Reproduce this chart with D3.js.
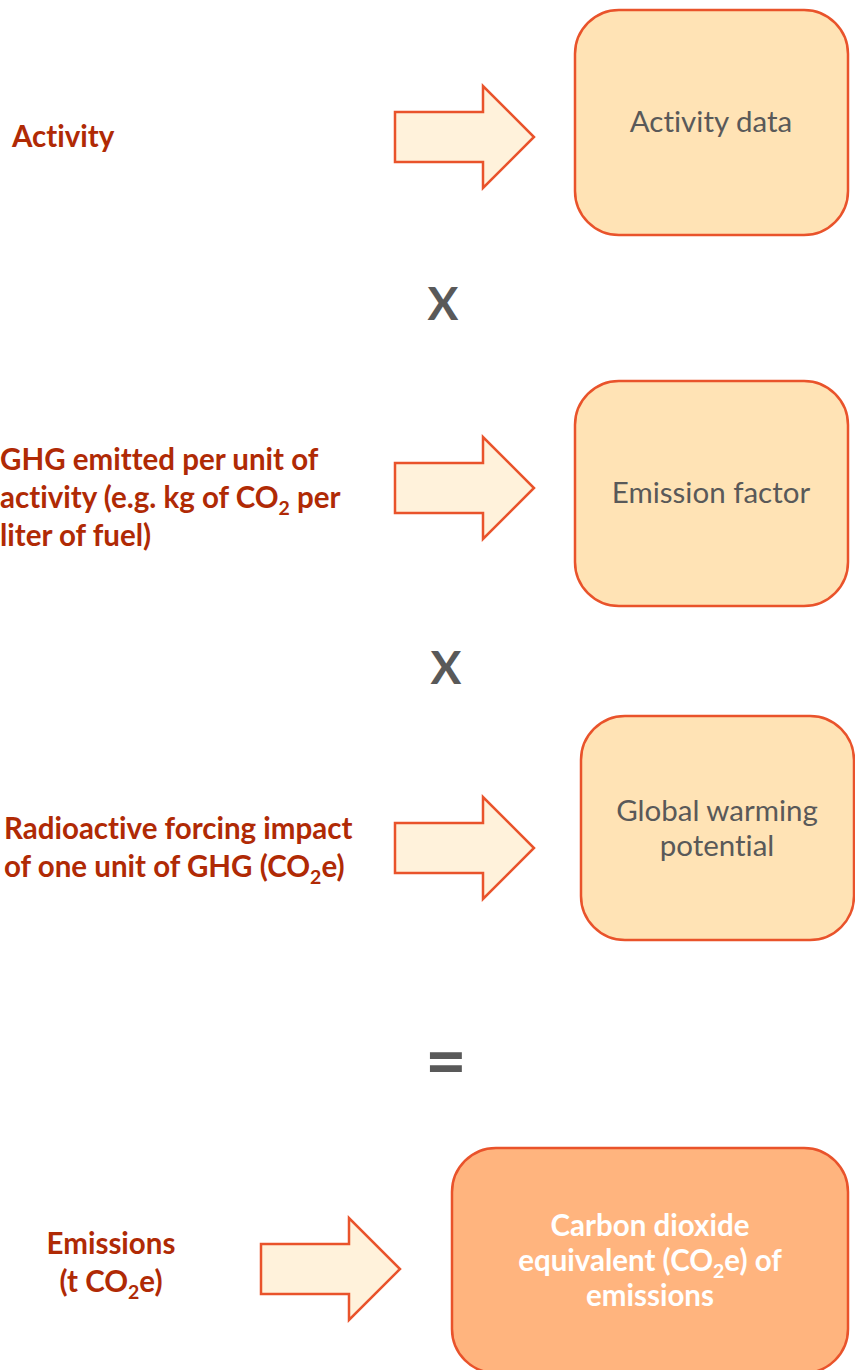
<!DOCTYPE html>
<html>
<head>
<meta charset="utf-8">
<script src="https://cdn.jsdelivr.net/npm/d3@7"></script>
<style>
  body { margin: 0; background: #fff; }
  svg { display: block; }
  text { font-variant-ligatures: none; font-feature-settings: "liga" 0; }
</style>
</head>
<body>
<div id="viz"></div>
<script>
const width = 855;
const height = 1370;

// Data: text of each step ("_2" marks a subscript)
const stepLabels = [
  ['Activity'],
  ['GHG emitted per unit of', 'activity (e.g. kg of CO_2 per', 'liter of fuel)'],
  ['Radioactive forcing impact', 'of one unit of GHG (CO_2e)'],
  ['Emissions', '(t CO_2e)']
];
const boxTexts = [
  ['Activity data'],
  ['Emission factor'],
  ['Global warming', 'potential'],
  ['Carbon dioxide', 'equivalent (CO_2e) of', 'emissions']
];
const operators = ['X', 'X', '='];

// Layout for each row
const layout = [
  {labelX: 12, labelAnchor: 'start', labelY: 137, arrowX: 395, arrowY: 137, box: [575, 10, 848, 235], textX: 711, textY: 122},
  {labelX: 0, labelAnchor: 'start', labelY: 498, arrowX: 395, arrowY: 488, box: [575, 381, 848, 606], textX: 711, textY: 493},
  {labelX: 4, labelAnchor: 'start', labelY: 848, arrowX: 395, arrowY: 848, box: [581, 716, 854, 940], textX: 717, textY: 828},
  {labelX: 111, labelAnchor: 'middle', labelY: 1263, arrowX: 261, arrowY: 1269, box: [452, 1148, 848, 1373], textX: 650, textY: 1261}
];
const opPos = [[443, 304], [446, 668], [446, 1062]];
const opSize = [46, 46, 72];

const strokeColor = '#E9532B';
const labelColor = '#B02A05';
const greyText = '#595959';

const svg = d3.select('#viz')
  .append('svg')
    .attr('width', width)
    .attr('height', height)
    .style('font-family', 'Lato, "Open Sans", sans-serif');

// write a line with CO_2 style subscripts
const writeLine = (textSel, line) => {
  const parts = line.split(/_(\d)/);
  parts.forEach((p, i) => {
    if (p === '') return;
    const t = textSel.append('tspan').text(p);
    if (i % 2 === 1) {
      t.attr('font-size', '0.66em').attr('dy', '0.32em');
    } else if (i > 0) {
      t.attr('dy', '-0.21em');
    }
  });
};

const multiLine = (g, lines, x, cy, lineH, opts) => {
  const y0 = cy - (lines.length - 1) * lineH / 2;
  lines.forEach((line, i) => {
    const t = g.append('text')
      .attr('x', x)
      .attr('y', y0 + i * lineH)
      .attr('dy', '0.35em')
      .attr('text-anchor', opts.anchor)
      .attr('fill', opts.fill)
      .attr('font-size', opts.size)
      .attr('font-weight', opts.weight);
    writeLine(t, line);
  });
};

// arrow shape (relative to left, centre)
const arrowLine = d3.line();
const arrowPts = (x, y) => [
  [x, y - 25], [x + 88, y - 25], [x + 88, y - 51], [x + 139, y],
  [x + 88, y + 51], [x + 88, y + 25], [x, y + 25]
];

const rows = svg.selectAll('g.row')
  .data(d3.range(stepLabels.length))
  .join('g')
    .attr('class', 'row');

rows.append('path')
  .attr('d', i => arrowLine(arrowPts(layout[i].arrowX, layout[i].arrowY)) + 'Z')
  .attr('fill', '#FFF2DB')
  .attr('stroke', strokeColor)
  .attr('stroke-width', 2.5);

rows.append('rect')
  .attr('x', i => layout[i].box[0])
  .attr('y', i => layout[i].box[1])
  .attr('width', i => layout[i].box[2] - layout[i].box[0])
  .attr('height', i => layout[i].box[3] - layout[i].box[1])
  .attr('rx', 44)
  .attr('fill', i => i === 3 ? '#FFB47E' : '#FFE3B5')
  .attr('stroke', strokeColor)
  .attr('stroke-width', 2.5);

rows.each(function(i) {
  const g = d3.select(this);
  const L = layout[i];
  multiLine(g, stepLabels[i], L.labelX, L.labelY, 38,
    {anchor: L.labelAnchor, fill: labelColor, size: 29.5, weight: 700});
  const last = i === 3;
  multiLine(g, boxTexts[i], L.textX, L.textY, 35,
    {anchor: 'middle', fill: last ? '#FFFFFF' : greyText, size: 29.5, weight: last ? 700 : 400});
});

svg.selectAll('text.op')
  .data(operators)
  .join('text')
    .attr('class', 'op')
    .attr('x', (d, i) => opPos[i][0])
    .attr('y', (d, i) => opPos[i][1])
    .attr('dy', '0.35em')
    .attr('text-anchor', 'middle')
    .attr('fill', greyText)
    .attr('font-size', (d, i) => opSize[i])
    .attr('font-weight', 700)
    .text(d => d);
</script>
</body>
</html>
